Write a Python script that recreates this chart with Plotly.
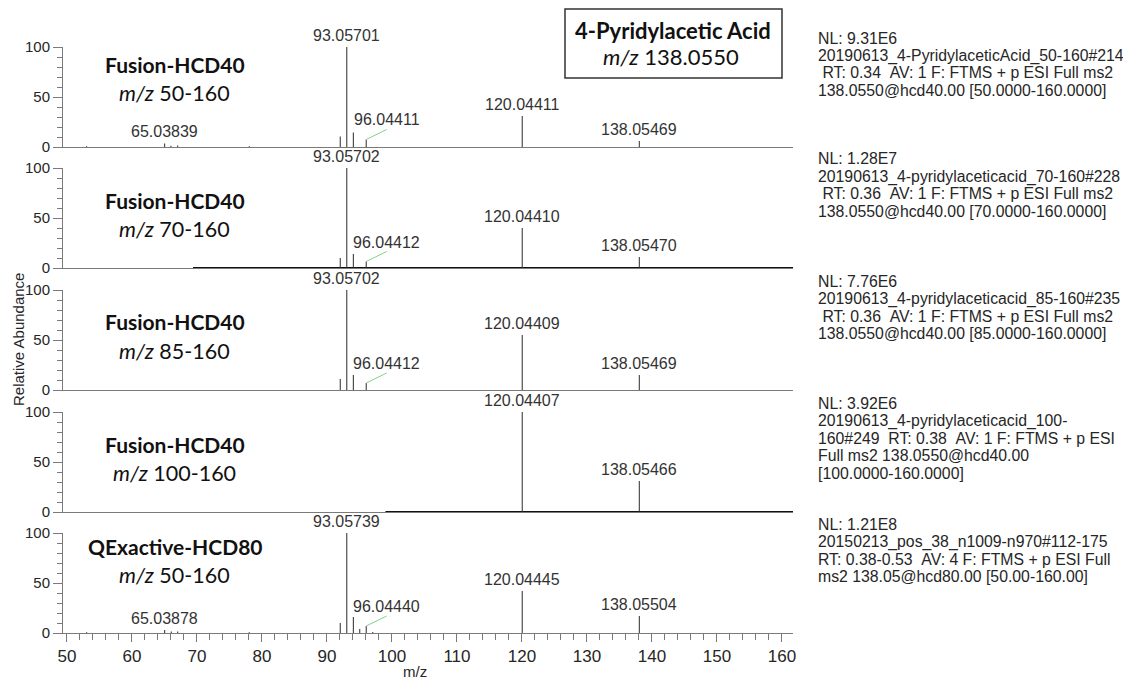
import plotly.graph_objects as go

# ---------------- data ----------------
p1_mz = [53.04, 65.03839, 66.0, 67.05, 78.05, 92.05, 93.05701, 94.065, 96.04411, 120.04411, 138.05469]
p1_int = [0.8, 3.5, 1.2, 1.5, 0.8, 10.5, 100, 14.5, 7.5, 31, 6]
p1_labels = [65.03839, 93.05701, 120.04411, 138.05469]
p1_leader = [96.04411]

p2_mz = [92.05, 93.05702, 94.065, 96.04412, 120.04410, 138.05470]
p2_int = [10, 100, 14, 6.5, 40, 11]
p2_labels = [93.05702, 120.04410, 138.05470]
p2_leader = [96.04412]

p3_mz = [92.05, 93.05702, 94.065, 96.04412, 120.04409, 138.05469]
p3_int = [11, 100, 15, 7, 55, 15]
p3_labels = [93.05702, 120.04409, 138.05469]
p3_leader = [96.04412]

p4_mz = [120.04407, 138.05466]
p4_int = [100, 31]
p4_labels = [120.04407, 138.05466]
p4_leader = []

p5_mz = [53.04, 65.03878, 66.05, 67.05, 78.05, 92.05, 93.05739, 94.065, 95.05, 96.04440, 97.05, 120.04445, 138.05504]
p5_int = [0.8, 3, 1.5, 1.5, 0.8, 10, 100, 16, 4, 7, 1, 42, 17]
p5_labels = [65.03878, 93.05739, 120.04445, 138.05504]
p5_leader = [96.04440]

instruments = ["Fusion-HCD40", "Fusion-HCD40", "Fusion-HCD40", "Fusion-HCD40", "QExactive-HCD80"]
mz_ranges = ["50-160", "70-160", "85-160", "100-160", "50-160"]
scan_start = [None, 69.4, None, 99.0, None]

info_text = [
    ["NL: 9.31E6", "20190613_4-PyridylaceticAcid_50-160#214",
     " RT: 0.34  AV: 1 F: FTMS + p ESI Full ms2", "138.0550@hcd40.00 [50.0000-160.0000]"],
    ["NL: 1.28E7", "20190613_4-pyridylaceticacid_70-160#228",
     " RT: 0.36  AV: 1 F: FTMS + p ESI Full ms2", "138.0550@hcd40.00 [70.0000-160.0000]"],
    ["NL: 7.76E6", "20190613_4-pyridylaceticacid_85-160#235",
     " RT: 0.36  AV: 1 F: FTMS + p ESI Full ms2", "138.0550@hcd40.00 [85.0000-160.0000]"],
    ["NL: 3.92E6", "20190613_4-pyridylaceticacid_100-",
     "160#249  RT: 0.38  AV: 1 F: FTMS + p ESI", "Full ms2 138.0550@hcd40.00", "[100.0000-160.0000]"],
    ["NL: 1.21E8", "20150213_pos_38_n1009-n970#112-175",
     "RT: 0.38-0.53  AV: 4 F: FTMS + p ESI Full", "ms2 138.05@hcd80.00 [50.00-160.00]"],
]

compound = "4-Pyridylacetic Acid"
precursor = "138.0550"
x_ticks = [50, 60, 70, 80, 90, 100, 110, 120, 130, 140, 150, 160]
y_ticks = [0, 50, 100]

panels = [
    (p1_mz, p1_int, p1_labels, p1_leader),
    (p2_mz, p2_int, p2_labels, p2_leader),
    (p3_mz, p3_int, p3_labels, p3_leader),
    (p4_mz, p4_int, p4_labels, p4_leader),
    (p5_mz, p5_int, p5_labels, p5_leader),
]

# ---------------- layout geometry (target screen pixels) ----------------
W, H = 1131, 682
OFF = 8                      # page body offset
PL, PR = 63, 793             # plot area left/right on screen
MT, MB = 20, 20
ML = PL - OFF
MR = W - (PR - OFF)
PW = PR - PL
PH = H - MT - MB
x_range = [49.4, 161.7]
zero_px = [147, 268, 390, 512, 633]
top_px = [47, 168, 290, 412, 533]
name_y = [64, 201, 322, 444, 546]
range_y = [93, 229, 351, 473, 575]
info_y0 = [38, 159, 281, 403, 524]
info_dy = 17.5


def px_x(px):
    return (px - OFF - ML) / PW


def px_y(py):
    return 1 - (py - OFF - MT) / PH


AX = "#7a7a7a"
TXT = "#262626"
NUM_FONT = dict(family="Liberation Sans, Arial, sans-serif", size=16, color="#333333")
LBL_FONT = "Lato, Carlito, Calibri, sans-serif"

fig = go.Figure()
annotations = []
shapes = []

for k, (mz, inten, labs, leads) in enumerate(panels):
    n = k + 1
    xa = "x" if n == 1 else f"x{n}"
    ya = "y" if n == 1 else f"y{n}"
    xs, ys = [], []
    for m, v in zip(mz, inten):
        xs += [m, m, None]
        ys += [0, v, None]
    if scan_start[k] is not None:
        fig.add_trace(go.Scatter(x=[scan_start[k], x_range[1]], y=[0, 0], mode="lines",
                                 line=dict(color="#111111", width=2.2), xaxis=xa, yaxis=ya,
                                 hoverinfo="skip", showlegend=False, cliponaxis=False))
    fig.add_trace(go.Scatter(x=xs, y=ys, mode="lines", line=dict(color="#2a2a2a", width=1),
                             xaxis=xa, yaxis=ya, showlegend=False, hoverinfo="skip"))
    lookup = dict(zip(mz, inten))
    for m in labs:
        annotations.append(dict(x=m, y=lookup[m], xref=xa, yref=ya, text=f"{m:.5f}",
                                showarrow=False, xanchor="center", yanchor="bottom",
                                yshift=1, font=NUM_FONT))
    for m in leads:
        h = lookup[m]
        lx, ly = m + 3.15, h + 10
        shapes.append(dict(type="line", xref=xa, yref=ya, x0=m, y0=h, x1=lx, y1=ly,
                           line=dict(color="#86d286", width=1)))
        annotations.append(dict(x=lx, y=ly, xref=xa, yref=ya, text=f"{m:.5f}",
                                showarrow=False, xanchor="center", yanchor="bottom",
                                yshift=-1, font=NUM_FONT))
    annotations.append(dict(x=px_x(175), y=px_y(name_y[k]), xref="paper", yref="paper",
                            text=f"<b>{instruments[k]}</b>", showarrow=False,
                            xanchor="center", yanchor="middle",
                            font=dict(family=LBL_FONT, size=21, color="#111111")))
    annotations.append(dict(x=px_x(174), y=px_y(range_y[k]), xref="paper", yref="paper",
                            text=f"<i>m/z</i> {mz_ranges[k]}", showarrow=False,
                            xanchor="center", yanchor="middle",
                            font=dict(family=LBL_FONT, size=21.5, color="#111111")))
    for i, line in enumerate(info_text[k]):
        annotations.append(dict(x=px_x(816), y=px_y(info_y0[k] + i * info_dy), xref="paper",
                                yref="paper", text=line.replace(" ", "\u00a0"), showarrow=False,
                                xanchor="left", yanchor="middle",
                                font=dict(family="Liberation Sans, Arial, sans-serif", size=15.8,
                                          color=TXT)))

    last = (n == 5)
    xaxis = dict(domain=[0, 1], range=x_range, anchor=ya, showline=True, linecolor=AX,
                 linewidth=1, showgrid=False, zeroline=False, fixedrange=True, automargin=False)
    if last:
        xaxis.update(tickvals=x_ticks, ticks="outside", ticklen=8, tickcolor=AX, tickwidth=1,
                     tickfont=dict(family="Liberation Sans, Arial, sans-serif", size=17,
                                   color=TXT),
                     minor=dict(dtick=2, tick0=50, ticks="outside", ticklen=6, tickcolor=AX))
    else:
        xaxis.update(showticklabels=False, ticks="", matches="x5")
    yaxis = dict(domain=[px_y(zero_px[k]), px_y(top_px[k])], range=[0, 100], anchor=xa,
                 showline=True, linecolor=AX, linewidth=1, showgrid=False, zeroline=False,
                 tickvals=y_ticks, ticks="outside", ticklen=9, tickcolor=AX, automargin=False,
                 tickfont=dict(family="Liberation Sans, Arial, sans-serif", size=15, color=TXT),
                 minor=dict(dtick=10, tick0=0, ticks="outside", ticklen=5, tickcolor=AX),
                 fixedrange=True)
    key = "" if n == 1 else str(n)
    fig.layout["xaxis" + key] = xaxis
    fig.layout["yaxis" + key] = yaxis

# title box
shapes.append(dict(type="rect", xref="paper", yref="paper", x0=px_x(565), x1=px_x(782),
                   y0=px_y(78), y1=px_y(9), line=dict(color="#333333", width=1.5),
                   fillcolor="rgba(0,0,0,0)"))
annotations.append(dict(x=px_x(673), y=px_y(30), xref="paper", yref="paper",
                        text=f"<b>{compound}</b>", showarrow=False, xanchor="center",
                        yanchor="middle", font=dict(family=LBL_FONT, size=22, color="#111111")))
annotations.append(dict(x=px_x(671), y=px_y(57), xref="paper", yref="paper",
                        text=f"<i>m/z</i> {precursor}", showarrow=False, xanchor="center",
                        yanchor="middle", font=dict(family=LBL_FONT, size=22, color="#111111")))
annotations.append(dict(x=px_x(415), y=px_y(671), xref="paper", yref="paper", text="m/z",
                        showarrow=False, xanchor="center", yanchor="middle",
                        font=dict(family="Liberation Sans, Arial, sans-serif", size=15,
                                  color=TXT)))
annotations.append(dict(x=px_x(18), y=px_y(340), xref="paper", yref="paper",
                        text="Relative Abundance", textangle=-90, showarrow=False,
                        xanchor="center", yanchor="middle",
                        font=dict(family="Liberation Sans, Arial, sans-serif", size=15,
                                  color=TXT)))

fig.update_layout(width=W, height=H, margin=dict(l=ML, r=MR, t=MT, b=MB, autoexpand=False),
                  paper_bgcolor="white", plot_bgcolor="white", showlegend=False,
                  annotations=annotations, shapes=shapes)

fig.write_html("out.html")
